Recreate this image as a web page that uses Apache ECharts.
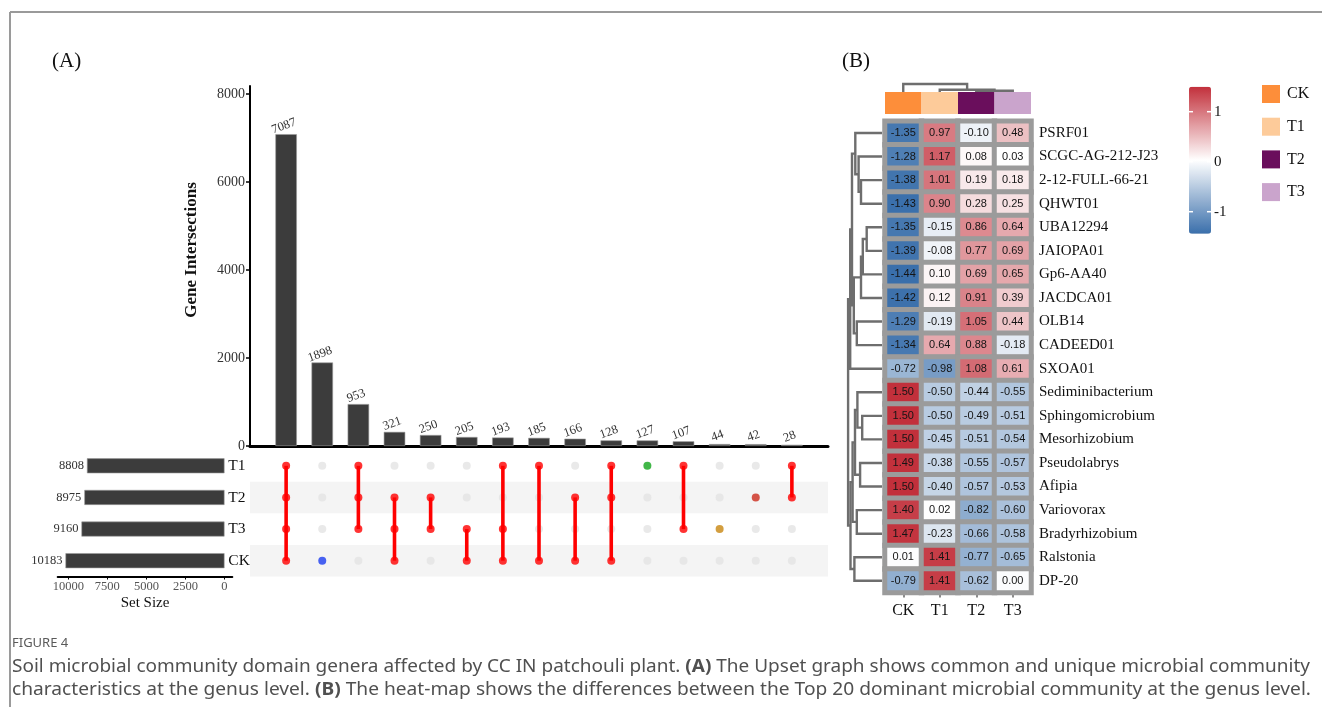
<!DOCTYPE html>
<html><head><meta charset="utf-8">
<script src="https://cdn.jsdelivr.net/npm/echarts@6/dist/echarts.min.js"></script>
<style>html,body{margin:0;padding:0;background:#fff}#c{width:1322px;height:719px}</style>
</head><body><div id="c"></div><script>
// ---------- Data: UpSet (A) ----------
const intersectionSizes = [7087, 1898, 953, 321, 250, 205, 193, 185, 166, 128, 127, 107, 44, 42, 28];
const intersectionSets = [
  ['T1','T2','T3','CK'], ['CK'], ['T1','T2','T3'], ['T2','T3','CK'], ['T2','T3'],
  ['T3','CK'], ['T1','T3','CK'], ['T1','CK'], ['T2','CK'], ['T1','T2','CK'],
  ['T1'], ['T1','T3'], ['T3'], ['T2'], ['T1','T2']
];
const setNames = ['T1', 'T2', 'T3', 'CK'];
const setSizes = [8808, 8975, 9160, 10183];
const intersectionTicks = [0, 2000, 4000, 6000, 8000];
const setSizeTicks = [0, 2500, 5000, 7500, 10000];

// ---------- Data: heatmap (B) ----------
const groups = ['CK', 'T1', 'T2', 'T3'];
const genera = ['PSRF01','SCGC-AG-212-J23','2-12-FULL-66-21','QHWT01','UBA12294','JAIOPA01','Gp6-AA40','JACDCA01','OLB14','CADEED01','SXOA01','Sediminibacterium','Sphingomicrobium','Mesorhizobium','Pseudolabrys','Afipia','Variovorax','Bradyrhizobium','Ralstonia','DP-20'];
const zCK = [-1.35,-1.28,-1.38,-1.43,-1.35,-1.39,-1.44,-1.42,-1.29,-1.34,-0.72,1.50,1.50,1.50,1.49,1.50,1.40,1.47,0.01,-0.79];
const zT1 = [0.97,1.17,1.01,0.90,-0.15,-0.08,0.10,0.12,-0.19,0.64,-0.98,-0.50,-0.50,-0.45,-0.38,-0.40,0.02,-0.23,1.41,1.41];
const zT2 = [-0.10,0.08,0.19,0.28,0.86,0.77,0.69,0.91,1.05,0.88,1.08,-0.44,-0.49,-0.51,-0.55,-0.57,-0.82,-0.66,-0.77,-0.62];
const zT3 = [0.48,0.03,0.18,0.25,0.64,0.69,0.65,0.39,0.44,-0.18,0.61,-0.55,-0.51,-0.54,-0.57,-0.53,-0.60,-0.58,-0.65,0.00];
const colorbarTicks = [1, 0, -1];
// dendrogram merges: [childA, childB, height]; leaves 0..n-1, internal nodes n+k
const rowMerges = [
  [2,3,7.0],[1,20,7.8],[0,21,8.9],[4,5,5.1],[23,6,6.4],[24,7,7.0],[8,9,8.4],[25,26,9.4],
  [22,27,10.0],[28,10,10.6],[12,13,6.6],[11,30,8.2],[14,15,7.3],[31,32,9.0],[16,17,8.4],
  [33,34,9.8],[18,19,9.2],[35,36,10.5],[29,37,11.3]
];
const colMerges = [[2,3,1.2],[1,4,2.2],[0,5,8.0]];

// ---------- Styles ----------
const SERIF = "'Liberation Serif','Times New Roman',serif";
const SANS = "'Liberation Sans',Arial,sans-serif";
const CAP = "'Noto Sans','Open Sans',sans-serif";
const groupColors = {CK:'#fd8e3a', T1:'#fdcb9a', T2:'#6a0e5c', T3:'#caa4cc'};
const singleColors = {CK:'#1c3cf0', T1:'#12a51a', T2:'#cc2a1c', T3:'#c8860f'};
const cb = {left:1189, top:86.7, width:22, height:147, min:-1.44, max:1.50};

function tree(n, merges){
  const pos = [], h = [];
  for (let i=0;i<n;i++){pos.push(i);h.push(0);}
  merges.forEach(m => {pos.push((pos[m[0]]+pos[m[1]])/2); h.push(m[2]);});
  return {pos, h};
}
const rowTree = tree(genera.length, rowMerges);
const colTree = tree(groups.length, colMerges);

const heatData = [];
[zCK,zT1,zT2,zT3].forEach((arr, c) => arr.forEach((v, r) => heatData.push([c, r, v])));

const emptyDots = [], memberDots = [], matrixLines = [];
intersectionSets.forEach((sets, i) => {
  setNames.forEach(s => {
    if (sets.indexOf(s) < 0) emptyDots.push([i, s]);
    else memberDots.push({value:[i, s], itemStyle:{color: sets.length === 1 ? singleColors[s] : '#ff0000'}});
  });
  if (sets.length > 1) {
    const idx = sets.map(s => setNames.indexOf(s));
    matrixLines.push([i, Math.min(...idx), Math.max(...idx)]);
  }
});

const lineStyleDendro = {stroke:'#6e6e6e', lineWidth:2.4, fill:null};
function dendroItem(treeObj, merges, horizontal){
  return function(params, api){
    const m = merges[params.dataIndex];
    const a = m[0], b = m[1], hm = m[2];
    const P = (h, p) => horizontal ? api.coord([h, p]) : api.coord([p, h]);
    const pts = [P(treeObj.h[a], treeObj.pos[a]), P(hm, treeObj.pos[a]), P(hm, treeObj.pos[b]), P(treeObj.h[b], treeObj.pos[b])];
    return {type:'polyline', shape:{points:pts}, style:lineStyleDendro, silent:true};
  };
}

// caption fitting (scale text horizontally to the reference line width)
function capWidth(str, font){
  const ctx = document.createElement('canvas').getContext('2d');
  ctx.font = font; return ctx.measureText(str).width;
}
const capLine1 = ['Soil microbial community domain genera affected by CC IN patchouli plant. ', '(A)', ' The Upset graph shows common and unique microbial community'];
const capLine2 = ['characteristics at the genus level. ', '(B)', ' The heat-map shows the differences between the Top 20 dominant microbial community at the genus level.'];
const capFontN = "18px " + CAP, capFontB = "bold 18px " + CAP;
function capScale(parts, target){
  const w = capWidth(parts[0], capFontN) + capWidth(parts[1], capFontB) + capWidth(parts[2], capFontN);
  return target / w;
}
const capRich = {n:{font:capFontN, fill:'#505050'}, b:{font:capFontB, fill:'#505050'}};

const hidden = {show:false};
const graphics = [
  {type:'line', shape:{x1:10,y1:12,x2:1322,y2:12}, style:{stroke:'#9a9a9a', lineWidth:2}},
  {type:'line', shape:{x1:10,y1:12,x2:10,y2:707}, style:{stroke:'#9a9a9a', lineWidth:2}},
  {type:'text', x:52, y:61, style:{text:'(A)', font:"21px "+SERIF, fill:'#111', textVerticalAlign:'middle'}},
  {type:'text', x:842, y:61, style:{text:'(B)', font:"21px "+SERIF, fill:'#111', textVerticalAlign:'middle'}},
  {type:'text', x:192, y:250, rotation:Math.PI/2, style:{text:'Gene Intersections', font:"bold 17px "+SERIF, fill:'#111', textAlign:'center', textVerticalAlign:'middle'}},
  {type:'text', x:12, y:643, style:{text:'FIGURE 4', font:"13px "+CAP, fill:'#5a5a5a', textVerticalAlign:'middle'}},
  {type:'text', x:12, y:667, scaleX:capScale(capLine1, 1298), style:{
    text:'{n|'+capLine1[0]+'}{b|'+capLine1[1]+'}{n|'+capLine1[2]+'}', textVerticalAlign:'middle', rich:capRich}},
  {type:'text', x:12, y:690, scaleX:capScale(capLine2, 1299), style:{
    text:'{n|'+capLine2[0]+'}{b|'+capLine2[1]+'}{n|'+capLine2[2]+'}', textVerticalAlign:'middle', rich:capRich}}
];
colorbarTicks.forEach(v => {
  const y = cb.top + (cb.max - v) / (cb.max - cb.min) * cb.height;
  graphics.push({type:'line', z:100, shape:{x1:cb.left, y1:y, x2:cb.left+4, y2:y}, style:{stroke:'#fff', lineWidth:1.5}});
  graphics.push({type:'line', z:100, shape:{x1:cb.left+cb.width-4, y1:y, x2:cb.left+cb.width, y2:y}, style:{stroke:'#fff', lineWidth:1.5}});
  graphics.push({type:'text', z:100, x:cb.left+cb.width+3, y:y, style:{text:String(v), font:"15px "+SERIF, fill:'#111', textVerticalAlign:'middle'}});
});

const option = {
  animation:false,
  backgroundColor:'#fff',
  graphic: graphics,
  legend: {data: groups, left:1262, top:85, orient:'vertical', icon:'rect', itemWidth:18, itemHeight:18, itemGap:14.7, padding:0, selectedMode:false,
    textStyle:{fontFamily:SERIF, fontSize:16, color:'#111', padding:[0,0,0,2]}},
  visualMap: {type:'continuous', seriesIndex:3, min:cb.min, max:cb.max, left:cb.left, top:cb.top, itemWidth:cb.width, itemHeight:cb.height,
    padding:0, calculable:false, hoverLink:false, inRange:{color:['#3a6fab','#ffffff','#c2303b']}},
  grid: [
    {left:250, top:86, width:578, height:360},      // 0 intersection bars
    {left:250, top:450, width:578, height:126.5},   // 1 matrix
    {left:57.7, top:450, width:174.6, height:126.5},// 2 set size
    {left:885, top:121.2, width:146, height:471.4}, // 3 heatmap
    {left:885, top:92, width:146, height:22},       // 4 annotation
    {left:885, top:82, width:146, height:10},       // 5 col dendrogram
    {left:846, top:121.2, width:36, height:471.4}   // 6 row dendrogram
  ],
  xAxis: [
    {gridIndex:0, type:'value', min:-1, max:15, axisLine:{show:true, onZero:false, lineStyle:{color:'#000', width:3}}, axisTick:hidden, axisLabel:hidden, splitLine:hidden},
    {gridIndex:1, type:'value', min:-1, max:15, show:false},
    {gridIndex:2, type:'value', inverse:true, min:-500, max:10680,
      axisLine:{show:true, onZero:false, lineStyle:{color:'#000', width:2}},
      axisTick:{show:true, length:3, customValues:setSizeTicks, lineStyle:{color:'#000'}},
      axisLabel:{customValues:setSizeTicks, formatter:v=>String(v), margin:4, fontFamily:SERIF, fontSize:12.5, color:'#555'},
      splitLine:hidden, name:'Set Size', nameLocation:'middle', nameGap:19, nameTextStyle:{fontFamily:SERIF, fontSize:15, color:'#111'}},
    {gridIndex:3, type:'category', data:groups, position:'bottom', axisLine:hidden,
      axisTick:{show:true, alignWithLabel:true, length:5, lineStyle:{color:'#8a8a8a', width:2}},
      axisLabel:{margin:10, fontFamily:SERIF, fontSize:16, color:'#111'}},
    {gridIndex:4, type:'category', data:groups, show:false},
    {gridIndex:5, type:'value', min:-0.5, max:3.5, show:false},
    {gridIndex:6, type:'value', min:0, max:12, inverse:true, show:false}
  ],
  yAxis: [
    {gridIndex:0, type:'value', min:0, max:8182,
      axisLine:{show:true, onZero:false, lineStyle:{color:'#000', width:2}},
      axisTick:{show:true, length:4, customValues:intersectionTicks, lineStyle:{color:'#000', width:1.5}},
      axisLabel:{customValues:intersectionTicks, formatter:v=>String(v), margin:5, fontFamily:SERIF, fontSize:14, color:'#333'}, splitLine:hidden},
    {gridIndex:1, type:'category', data:setNames, inverse:true, axisLine:hidden, axisTick:hidden, axisLabel:hidden,
      splitArea:{show:true, areaStyle:{color:['rgba(255,255,255,0)','#f4f4f4']}}},
    {gridIndex:2, type:'category', data:setNames, inverse:true, position:'right', axisLine:hidden, axisTick:hidden,
      axisLabel:{margin:-4, fontFamily:SERIF, fontSize:15.5, color:'#111'}},
    {gridIndex:3, type:'category', data:genera, inverse:true, position:'right', axisLine:hidden, axisTick:hidden,
      axisLabel:{margin:8, fontFamily:SERIF, fontSize:15, color:'#111'}},
    {gridIndex:4, type:'value', min:0, max:1, show:false},
    {gridIndex:5, type:'value', min:0, max:10, show:false},
    {gridIndex:6, type:'value', min:-0.5, max:19.5, inverse:true, show:false}
  ],
  series: [
    {type:'bar', xAxisIndex:0, yAxisIndex:0, barWidth:21.5, data:intersectionSizes.map((v,i)=>[i,v]),
      itemStyle:{color:'#3c3c3c', borderColor:'#9a9a9a', borderWidth:0.6},
      label:{show:true, position:'top', distance:2, rotate:20, formatter:p=>p.value[1], fontFamily:SERIF, fontSize:12.5, color:'#333'}},
    {type:'scatter', xAxisIndex:1, yAxisIndex:1, symbolSize:8, data:emptyDots, itemStyle:{color:'#e4e4e4'}, silent:true, z:2},
    {type:'custom', xAxisIndex:1, yAxisIndex:1, data:matrixLines, clip:false, z:3,
      renderItem:(params, api) => {
        const p1 = api.coord([api.value(0), api.value(1)]);
        const p2 = api.coord([api.value(0), api.value(2)]);
        return {type:'line', shape:{x1:p1[0], y1:p1[1], x2:p2[0], y2:p2[1]}, style:{stroke:'#ff0000', lineWidth:3.6}};
      }},
    {type:'heatmap', xAxisIndex:3, yAxisIndex:3, data:heatData,
      itemStyle:{borderColor:'#9b9b9b', borderWidth:5}, label:{show:false}},
    {type:'scatter', xAxisIndex:1, yAxisIndex:1, symbolSize:8, data:memberDots, z:4},
    {type:'bar', xAxisIndex:2, yAxisIndex:2, barWidth:15, data:setSizes,
      itemStyle:{color:'#3c3c3c', borderColor:'#9a9a9a', borderWidth:0.6},
      label:{show:true, position:'left', distance:3, fontFamily:SERIF, fontSize:12.5, color:'#333'}},
    {type:'custom', xAxisIndex:6, yAxisIndex:6, data:rowMerges, clip:false, renderItem:dendroItem(rowTree, rowMerges, true)},
    {type:'custom', xAxisIndex:5, yAxisIndex:5, data:colMerges, clip:false, renderItem:dendroItem(colTree, colMerges, false)},
    {type:'custom', xAxisIndex:3, yAxisIndex:3, data:heatData, z:5, silent:true,
      renderItem:(params, api) => {
        const p = api.coord([api.value(0), api.value(1)]);
        return {type:'text', x:p[0], y:p[1], style:{text:api.value(2).toFixed(2), fill:'#151515', font:"11px "+SANS, textAlign:'center', textVerticalAlign:'middle'}};
      }}
  ].concat(groups.map(g => ({
    type:'bar', name:g, xAxisIndex:4, yAxisIndex:4, stack:'ann', barCategoryGap:'0%',
    data: groups.map(x => x === g ? 1 : '-'), itemStyle:{color:groupColors[g]}
  })))
};
const chart = echarts.init(document.getElementById('c'), null, {renderer:'canvas'});
chart.setOption(option);
</script></body></html>
